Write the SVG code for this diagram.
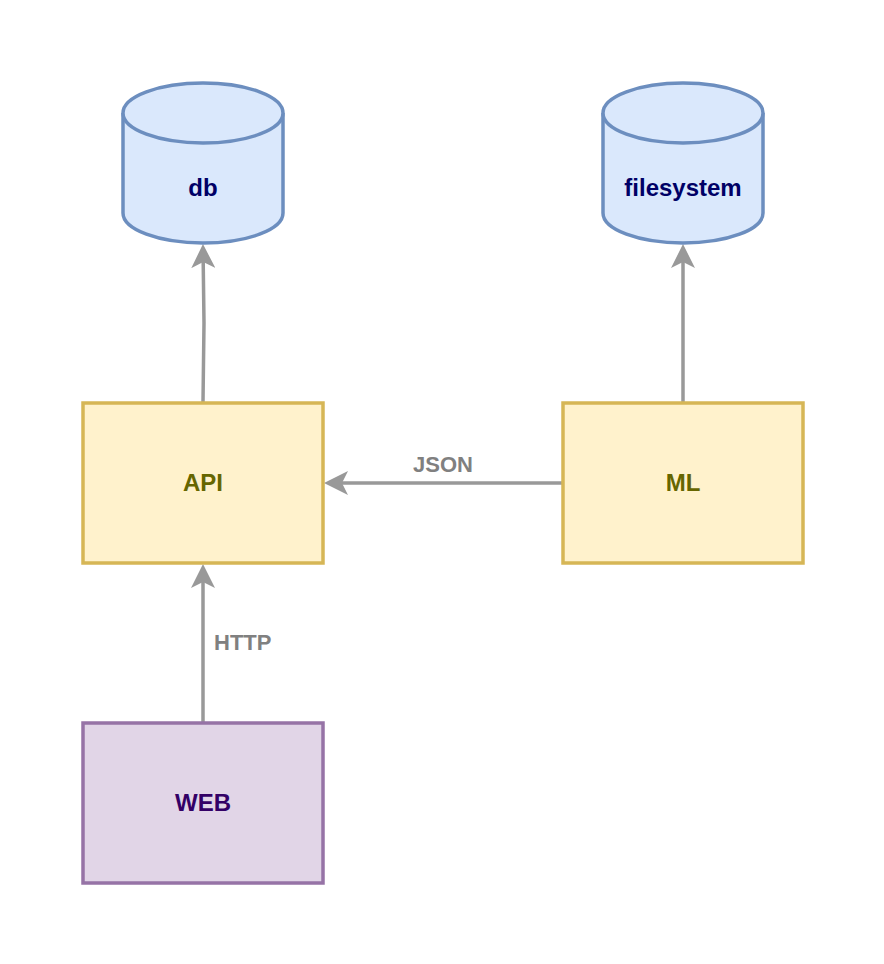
<svg xmlns="http://www.w3.org/2000/svg" width="884" height="964" viewBox="0 0 884 964">
<style>
.cyl{fill:#dae8fc;stroke:#6c8ebf;stroke-width:3.5}
.box{fill:#fff2cc;stroke:#d6b656;stroke-width:3.5}
.web{fill:#e1d5e7;stroke:#9673a6;stroke-width:3.5}
.t{font-family:"Liberation Sans",Arial,sans-serif;font-weight:bold;font-size:24px;text-anchor:middle}
.lbl{font-family:"Liberation Sans",Arial,sans-serif;font-weight:bold;font-size:22px;fill:#808080}
.edge{fill:none;stroke:#999999;stroke-width:3.5}
</style>
<defs>
<marker id="arr" viewBox="0 0 24 24" markerWidth="24" markerHeight="24" refX="6" refY="12" orient="auto" markerUnits="userSpaceOnUse">
<path d="M0,0 L24,12 L0,24 L6,12 Z" fill="#999999"/>
</marker>
</defs>
<rect width="884" height="964" fill="#ffffff"/>
<g id="connectors">
<path class="edge" d="M203,402 L204,323 L203.2,262" marker-end="url(#arr)"/>
<path class="edge" d="M683,402 L683,262" marker-end="url(#arr)"/>
<path class="edge" d="M562,483 L342,483" marker-end="url(#arr)"/>
<path class="edge" d="M203,722 L203,582" marker-end="url(#arr)"/>
<text class="lbl" x="443" y="472" text-anchor="middle">JSON</text>
<text class="lbl" x="214" y="650">HTTP</text>
</g>
<g id="db">
<path class="cyl" d="M123,113 A80,30 0 0 1 283,113 L283,213 A80,30 0 0 1 123,213 Z"/>
<path class="cyl" d="M123,113 A80,30 0 0 0 283,113" fill="none"/>
<text class="t" x="203" y="196" fill="#000066">db</text>
</g>
<g id="filesystem">
<path class="cyl" d="M603,113 A80,30 0 0 1 763,113 L763,213 A80,30 0 0 1 603,213 Z"/>
<path class="cyl" d="M603,113 A80,30 0 0 0 763,113" fill="none"/>
<text class="t" x="683" y="196" fill="#000066">filesystem</text>
</g>
<g id="api">
<rect class="box" x="83" y="403" width="240" height="160"/>
<text class="t" x="203" y="491" fill="#666600">API</text>
</g>
<g id="ml">
<rect class="box" x="563" y="403" width="240" height="160"/>
<text class="t" x="683" y="491" fill="#666600">ML</text>
</g>
<g id="web">
<rect class="web" x="83" y="723" width="240" height="160"/>
<text class="t" x="203" y="811" fill="#330066">WEB</text>
</g>
</svg>
